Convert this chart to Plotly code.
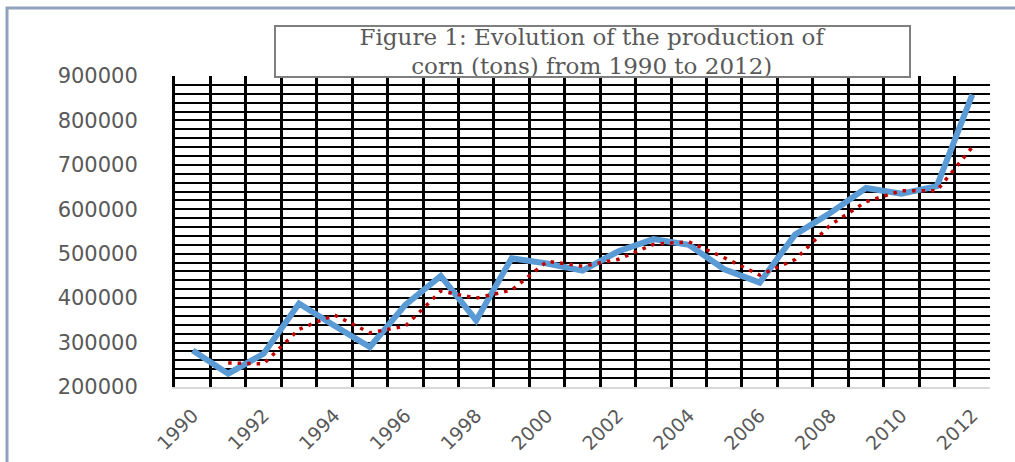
import plotly.graph_objects as go

years = list(range(1990, 2013))
production = [282000, 230000, 275000, 388000, 338000, 290000, 385000, 450000,
              350000, 490000, 478000, 462000, 505000, 533000, 520000, 465000,
              435000, 543000, 592000, 648000, 635000, 652000, 858000]
trend_years = list(range(1991, 2013))
trend_values = [254000, 252000, 330000, 362000, 322000, 337000, 416000, 400000,
                418000, 483000, 472000, 487000, 521000, 527000, 491000, 452000,
                487000, 565000, 617000, 642000, 642000, 740000]
x_tick_labels = [str(y) for y in range(1990, 2013, 2)]
y_tick_values = [200000, 300000, 400000, 500000, 600000, 700000, 800000, 900000]
title_text = "Figure 1: Evolution of the production of<br>corn (tons) from 1990 to 2012)"

label_color = "#595959"
y_tick_font = dict(family="DejaVu Sans", size=21, color=label_color)
x_tick_font = dict(family="DejaVu Sans", size=19, color=label_color)

fig = go.Figure()
fig.add_trace(go.Scatter(
    x=years, y=production, mode="lines",
    line=dict(color="#5B9BD5", width=6),
    showlegend=False, hoverinfo="x+y",
))
fig.add_trace(go.Scatter(
    x=trend_years, y=trend_values, mode="lines",
    line=dict(color="#C00000", width=3.5, dash="3.5px,6px"),
    showlegend=False, hoverinfo="x+y",
))

fig.update_layout(
    width=1015, height=462,
    margin=dict(l=175, r=25, t=76, b=75, autoexpand=False),
    paper_bgcolor="white", plot_bgcolor="white",
    xaxis=dict(
        range=[1989.5, 2012.5],
        tickmode="array",
        tickvals=[int(t) for t in x_tick_labels],
        ticktext=x_tick_labels,
        tickangle=-45,
        tickfont=x_tick_font,
        ticks="",
        ticklabelstandoff=8,
        automargin=False,
        showgrid=False,
        zeroline=False,
        showline=True, linecolor="#D9D9D9", linewidth=2,
        minor=dict(tick0=1989.5, dtick=1, showgrid=True,
                   gridcolor="black", gridwidth=2.5, ticks=""),
        fixedrange=True,
    ),
    yaxis=dict(
        range=[200000, 900000],
        tickmode="array",
        tickvals=y_tick_values,
        ticktext=[str(v) for v in y_tick_values],
        tickfont=y_tick_font,
        ticks="",
        ticklabelstandoff=30,
        automargin=False,
        showgrid=True, gridcolor="black", gridwidth=2,
        zeroline=False,
        showline=True, linecolor="black", linewidth=3, mirror=False,
        minor=dict(tick0=200000, dtick=20000, showgrid=True,
                   gridcolor="black", gridwidth=2, ticks=""),
        fixedrange=True,
    ),
    annotations=[dict(
        text=title_text, xref="paper", yref="paper",
        x=0.5123, y=0.9936, xanchor="center", yanchor="bottom",
        showarrow=False, align="center",
        font=dict(family="DejaVu Serif", size=23, color=label_color),
        bgcolor="white", bordercolor="#7F7F7F", borderwidth=2,
        width=633, height=49, borderpad=0,
    )],
    shapes=[dict(
        type="rect", xref="paper", yref="paper", layer="below",
        x0=(7 - 175) / 815, x1=(1040 - 175) / 815,
        y0=(387 - 520) / 311, y1=(387 - 8) / 311,
        line=dict(color="#8FA3BD", width=3), fillcolor="rgba(0,0,0,0)",
    )],
)

fig.write_html("out.html", config={"displayModeBar": False},
               post_script="document.body.style.margin='0px';")
